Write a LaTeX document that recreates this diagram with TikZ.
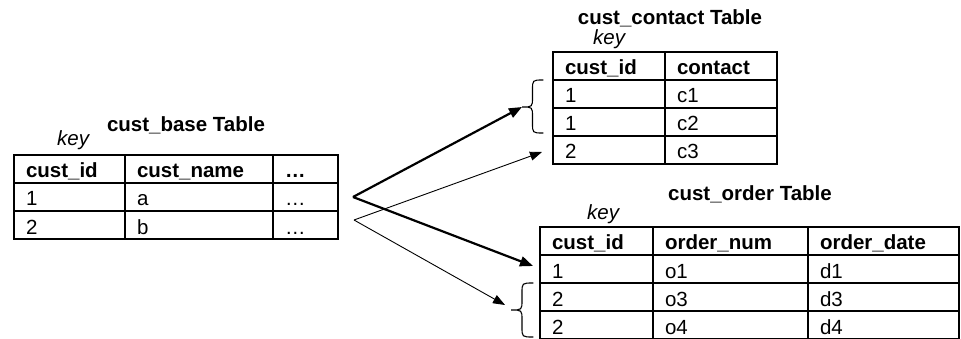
\documentclass[tikz,border=0pt]{standalone}
\usepackage{fontspec}
\setmainfont{Liberation Sans}
\usetikzlibrary{arrows.meta}
\begin{document}
\begin{tikzpicture}[x=1pt,y=-1pt,
  txt/.style={font=\fontsize{20.5}{24}\selectfont, inner sep=0pt},
  cell/.style={txt, draw, line width=2pt, anchor=north west, inner xsep=12pt,
    inner ysep=0pt, minimum height=28pt, text height=20pt, text depth=2pt, align=left},
  hcell/.style={cell, font=\fontsize{20.5}{24}\selectfont\bfseries},
  title/.style={txt, font=\fontsize{20.5}{24}\selectfont\bfseries, anchor=base},
  keylbl/.style={txt, font=\fontsize{20.5}{24}\selectfont\itshape, anchor=base west},
  link/.style={-{Triangle[length=13pt,width=10pt]}, line width=2.2pt},
  thinlink/.style={-{Triangle[length=12pt,width=9pt]}, line width=0.9pt},
  bracestyle/.style={line width=1.1pt, line cap=round}
]
\useasboundingbox (0,0) rectangle (961,339);

% ---- cust_base table ----
\node[title] (tbase) at (186,132) {cust\_base Table};
\node[keylbl] (kbase) at (57,146) {key};
\node[hcell, text width=87pt]  (b11) at (13,154)  {cust\_id};
\node[hcell, text width=124pt] (b12) at (124,154) {cust\_name};
\node[hcell, text width=41pt]  (b13) at (272,154) {…};
\node[cell, text width=87pt]   (b21) at (13,182)  {1};
\node[cell, text width=124pt]  (b22) at (124,182) {a};
\node[cell, text width=41pt]   (b23) at (272,182) {…};
\node[cell, text width=87pt]   (b31) at (13,210)  {2};
\node[cell, text width=124pt]  (b32) at (124,210) {b};
\node[cell, text width=41pt]   (b33) at (272,210) {…};

% ---- cust_contact table ----
\node[title] (tcont) at (670,25) {cust\_contact Table};
\node[keylbl] (kcont) at (593,45) {key};
\node[hcell, text width=88pt] (c11) at (552,51)  {cust\_id};
\node[hcell, text width=88pt] (c12) at (664,51)  {contact};
\node[cell, text width=88pt]  (c21) at (552,79)  {1};
\node[cell, text width=88pt]  (c22) at (664,79)  {c1};
\node[cell, text width=88pt]  (c31) at (552,107) {1};
\node[cell, text width=88pt]  (c32) at (664,107) {c2};
\node[cell, text width=88pt]  (c41) at (552,135) {2};
\node[cell, text width=88pt]  (c42) at (664,135) {c3};

% ---- cust_order table ----
\node[title] (tord) at (750,201) {cust\_order Table};
\node[keylbl] (kord) at (587,220) {key};
\node[hcell, text width=89pt]  (o11) at (539,226) {cust\_id};
\node[hcell, text width=131pt] (o12) at (652,226) {order\_num};
\node[hcell, text width=127pt] (o13) at (807,226) {order\_date};
\node[cell, text width=89pt]   (o21) at (539,254) {1};
\node[cell, text width=131pt]  (o22) at (652,254) {o1};
\node[cell, text width=127pt]  (o23) at (807,254) {d1};
\node[cell, text width=89pt]   (o31) at (539,282) {2};
\node[cell, text width=131pt]  (o32) at (652,282) {o3};
\node[cell, text width=127pt]  (o33) at (807,282) {d3};
\node[cell, text width=89pt]   (o41) at (539,310) {2};
\node[cell, text width=131pt]  (o42) at (652,310) {o4};
\node[cell, text width=127pt]  (o43) at (807,310) {d4};

% ---- braces grouping the repeated keys ----
\draw[bracestyle] (543,80) .. controls (532.5,80) .. (532.5,90) -- (532.5,97)
  .. controls (532.5,107) .. (522,107) .. controls (532.5,107) .. (532.5,117)
  -- (532.5,123) .. controls (532.5,133) .. (543,133);
\draw[bracestyle] (533,283) .. controls (522,283) .. (522,293) -- (522,300)
  .. controls (522,310) .. (511,310) .. controls (522,310) .. (522,320)
  -- (522,327) .. controls (522,337) .. (533,337);

% ---- links from cust_base rows ----
\coordinate (s1) at (353,197);
\coordinate (s2) at (354,220);
\coordinate (ca) at (522,107);
\coordinate (cb) at (542,152);
\coordinate (oa) at (533,266);
\coordinate (ob) at (505,305);
\draw[link] (s1) -- (ca);
\draw[link] (s1) -- (oa);
\draw[thinlink] (s2) -- (cb);
\draw[thinlink] (s2) -- (ob);
\end{tikzpicture}
\end{document}
